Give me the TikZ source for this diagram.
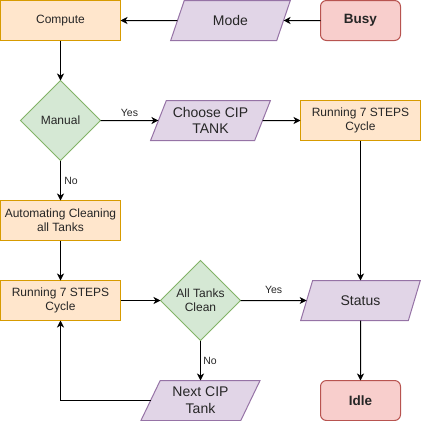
\documentclass[tikz,border=0pt]{standalone}
\usepackage{fontspec}
\setmainfont{Liberation Sans}
\usetikzlibrary{positioning,shapes.geometric,arrows.meta}
\definecolor{procfill}{HTML}{FFE6CC}
\definecolor{procline}{HTML}{D79B00}
\definecolor{iofill}{HTML}{E1D5E7}
\definecolor{ioline}{HTML}{9673A6}
\definecolor{decfill}{HTML}{D5E8D4}
\definecolor{decline}{HTML}{82B366}
\definecolor{statefill}{HTML}{F8CECC}
\definecolor{stateline}{HTML}{B85450}
\tikzset{every picture/.style={line width=1pt}}
\tikzset{
  base/.style={outer sep=0pt, inner sep=0pt, align=center, text=black!85},
  procbox/.style={base, rectangle, draw=procline, fill=procfill, minimum width=120pt, minimum height=40pt, font=\fontsize{12}{14.4}\selectfont},
  iobox/.style={base, trapezium, trapezium left angle=63.43, trapezium right angle=116.57, trapezium stretches=true, draw=ioline, fill=iofill, minimum width=120pt, minimum height=40pt, font=\fontsize{14}{16.8}\selectfont},
  decision/.style={base, diamond, aspect=1, draw=decline, fill=decfill, minimum width=80pt, minimum height=80pt, font=\fontsize{12}{14.4}\selectfont},
  statebox/.style={base, rectangle, rounded corners=6pt, draw=stateline, fill=statefill, minimum width=80pt, minimum height=40pt, font=\fontsize{13.5}{16}\selectfont\bfseries},
  flow/.style={-{Stealth[length=7pt,width=7pt,inset=2pt]}, black},
  flowlabel/.style={font=\fontsize{10.5}{12}\selectfont, text=black!85}
}

\begin{document}
\begin{tikzpicture}[x=1pt, y=1pt, node distance=40pt]
    \useasboundingbox (-0.5,0.5) rectangle (420.5,-420.5);

    % Top row
    \node[procbox] (compute) at (60,-20) {Compute};
    \node[iobox] (mode) at (230,-20) {Mode};
    \node[statebox] (busy) at (360,-20) {Busy};

    % Manual choice
    \node[decision, below=of compute] (manual) {Manual};
    \node[iobox] (choose) at (210,-120) {Choose CIP\\TANK};
    \node[procbox] (runone) at (360,-120) {Running 7 STEPS\\Cycle};

    % Automatic branch
    \node[procbox, below=of manual] (auto) {Automating Cleaning\\all Tanks};
    \node[procbox, below=of auto] (runall) {Running 7 STEPS\\Cycle};
    \node[decision, right=of runall] (clean) {All Tanks\\Clean};
    \node[iobox] (next) at (200,-400) {Next CIP\\Tank};

    % End state
    \node[iobox] (status) at (360,-300) {Status};
    \node[statebox, below=60pt of status] (idle) {Idle};

    % Connections
    \draw[flow] (busy) -- (mode);
    \draw[flow] (mode) -- (compute);
    \draw[flow] (compute) -- (manual);
    \draw[flow] (manual) -- node[flowlabel, above] {Yes} (choose);
    \draw[flow] (choose) -- (runone);
    \draw[flow] (manual) -- node[flowlabel, right] {No} (auto);
    \draw[flow] (auto) -- (runall);
    \draw[flow] (runall) -- (clean);
    \draw[flow] (clean) -- node[flowlabel, above=3pt] {Yes} (status);
    \draw[flow] (clean) -- node[flowlabel, right=-1pt] {No} (next);
    \draw[flow] (next) -| (runall);
    \draw[flow] (runone) -- (status);
    \draw[flow] (status) -- (idle);
\end{tikzpicture}
\end{document}
